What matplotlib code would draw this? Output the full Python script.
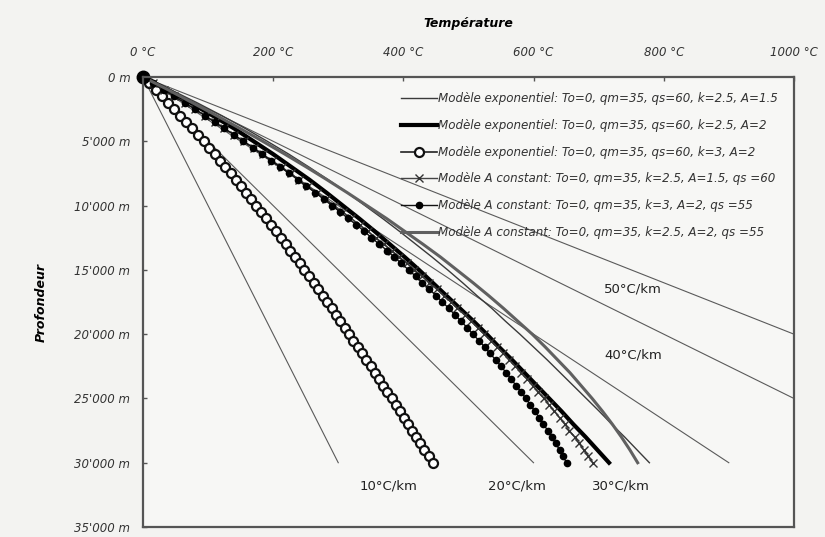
import numpy as np
import matplotlib
matplotlib.use("Agg")
import matplotlib.pyplot as plt

# depth grids (km)
depth_fine = np.arange(0, 30.01, 0.5)   # curves drawn with markers
depth = np.arange(0, 31, 1)             # plain curves

# temperatures (°C)
t_exp_k25_a15 = [0, 43, 83, 121, 157, 191, 224, 255, 285, 314, 341, 368, 394, 419, 444, 468,
                 491, 513, 536, 557, 579, 600, 621, 641, 661, 681, 701, 720, 740, 759, 778]
t_exp_k25_a2 = [0, 38, 73, 107, 140, 170, 200, 228, 256, 282, 307, 332, 356, 379, 402, 424,
                445, 466, 487, 508, 528, 547, 567, 586, 605, 624, 643, 661, 680, 698, 716]
t_exp_k3_a2 = [0, 10, 20, 29, 39, 48, 57, 66, 75, 84, 93, 101, 110, 118, 126, 135, 143, 151, 159,
               166, 174, 182, 189, 197, 204, 212, 219, 226, 234, 241, 248, 255, 262, 269, 276,
               283, 290, 296, 303, 310, 317, 323, 330, 336, 343, 350, 356, 363, 369, 375, 382,
               388, 395, 401, 407, 414, 420, 426, 432, 439, 445]
t_cst_k25_a15 = [0, 16, 32, 48, 64, 80, 95, 110, 125, 140, 155, 170, 184, 198, 213, 227, 240,
                 254, 268, 281, 294, 307, 320, 333, 345, 358, 370, 382, 394, 406, 417, 429, 440,
                 451, 462, 473, 483, 494, 504, 514, 524, 534, 544, 553, 563, 572, 581, 590, 599,
                 607, 616, 624, 632, 640, 648, 655, 663, 670, 677, 684, 691]
t_cst_k3_a2 = [0, 16, 32, 48, 64, 80, 95, 110, 125, 140, 154, 169, 183, 197, 211, 225, 238, 251,
               265, 278, 290, 303, 315, 328, 340, 351, 363, 375, 386, 397, 408, 419, 429, 440,
               450, 460, 470, 479, 489, 498, 507, 516, 525, 533, 542, 550, 558, 566, 573, 581,
               588, 595, 602, 609, 615, 622, 628, 634, 640, 645, 651]
t_cst_k25_a2 = [0, 39, 76, 113, 149, 184, 218, 251, 283, 314, 344, 374, 402, 430, 457, 482,
                507, 531, 554, 576, 598, 618, 637, 656, 673, 690, 706, 721, 735, 748, 760]

# reference gradients
grad_labels = ["10°C/km", "20°C/km", "30°C/km", "40°C/km", "50°C/km"]
grad_depth = [0, 30]
grad_end_temp = [300, 600, 900, 1200, 1500]

legend_labels = [
    "Modèle exponentiel: To=0, qm=35, qs=60, k=2.5, A=1.5",
    "Modèle exponentiel: To=0, qm=35, qs=60, k=2.5, A=2",
    "Modèle exponentiel: To=0, qm=35, qs=60, k=3, A=2",
    "Modèle A constant: To=0, qm=35, k=2.5, A=1.5, qs =60",
    "Modèle A constant: To=0, qm=35, k=3, A=2, qs =55",
    "Modèle A constant: To=0, qm=35, k=2.5, A=2, qs =55",
]

xticks = [0, 200, 400, 600, 800, 1000]
xtick_labels = ["0 °C", "200 °C", "400 °C", "600 °C", "800 °C", "1000 °C"]
yticks = [0, 5, 10, 15, 20, 25, 30, 35]
ytick_labels = ["0 m", "5'000 m", "10'000 m", "15'000 m", "20'000 m",
                "25'000 m", "30'000 m", "35'000 m"]

bg = "#f3f3f1"
fig = plt.figure(figsize=(8.25, 5.37), dpi=100, facecolor=bg)
ax = fig.add_axes([0.1733, 0.0186, 0.789, 0.838], facecolor="#f7f7f5")

for t_end in grad_end_temp:
    ax.plot([0, t_end], grad_depth, color="#5a5a5a", lw=0.8)

l1, = ax.plot(t_exp_k25_a15, depth, color="#3a3a3a", lw=1.0)
l2, = ax.plot(t_exp_k25_a2, depth, color="black", lw=3.0)
l3, = ax.plot(t_exp_k3_a2, depth_fine, color="#222222", lw=1.2, marker="o", ms=6.5,
              mfc="white", mec="#111111", mew=1.6)
l4, = ax.plot(t_cst_k25_a15, depth_fine, color="#444444", lw=1.0, marker="x", ms=6,
              mec="#333333", mew=1.0)
l5, = ax.plot(t_cst_k3_a2, depth_fine, color="#111111", lw=1.0, marker="o", ms=4.5,
              mfc="black", mec="black")
l6, = ax.plot(t_cst_k25_a2, depth, color="#606060", lw=2.2)
ax.plot([0], [0], marker="o", ms=9, color="black", clip_on=False)

# gradient labels
label_pos = [(377, 31.8), (575, 31.8), (735, 31.8), (753, 21.6), (752, 16.5)]
for (x, y), txt in zip(label_pos, grad_labels):
    ax.text(x, y, txt, ha="center", va="center", fontsize=9.5, color="#222222")

ax.set_xlim(0, 1000)
ax.set_ylim(35, 0)
ax.xaxis.tick_top()
ax.xaxis.set_label_position("top")
ax.set_xticks(xticks)
ax.set_xticklabels(xtick_labels, fontsize=8.5, style="italic", color="#333333")
ax.set_yticks(yticks)
ax.set_yticklabels(ytick_labels, fontsize=8.5, style="italic", color="#333333")
ax.tick_params(direction="in", length=3, width=1, color="#555555")
ax.tick_params(axis="x", pad=13)
ax.tick_params(axis="y", pad=9)
ax.set_xlabel("Température", fontsize=9, style="italic", fontweight="bold", labelpad=14)
ax.set_ylabel("Profondeur", fontsize=9, style="italic", fontweight="bold", labelpad=19)
for s in ax.spines.values():
    s.set_color("#555555")
    s.set_linewidth(1.6)

leg = ax.legend([l1, l2, l3, l4, l5, l6], legend_labels, loc="upper left",
                bbox_to_anchor=(0.38, 0.99), frameon=False, fontsize=8.6,
                handlelength=3.0, handletextpad=0.1, labelspacing=1.15)
for txt in leg.get_texts():
    txt.set_style("italic")
    txt.set_color("#333333")

fig.savefig("out.png", dpi=100, facecolor=bg)
